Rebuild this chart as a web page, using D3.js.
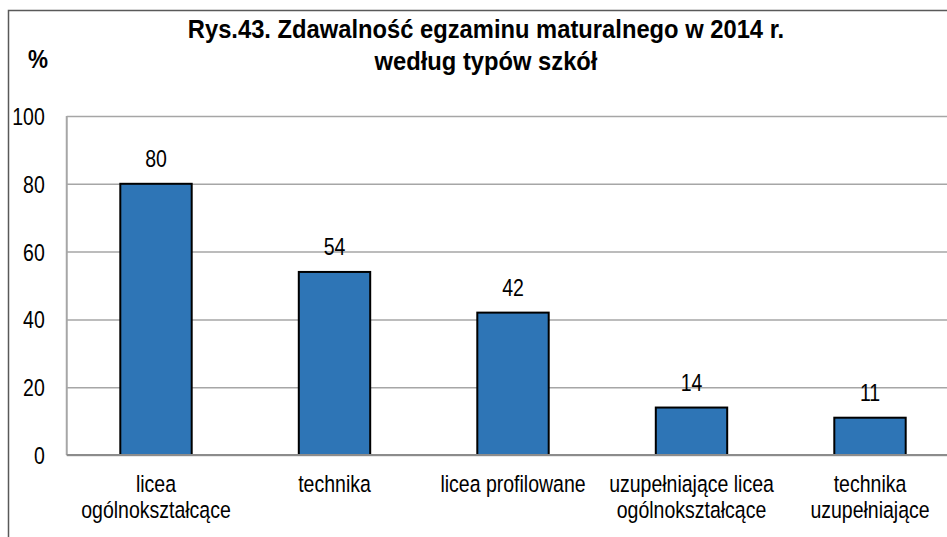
<!DOCTYPE html>
<html>
<head>
<meta charset="utf-8">
<script src="https://cdn.jsdelivr.net/npm/d3@7"></script>
<style>
  html, body { margin: 0; padding: 0; background: #fff; overflow: hidden; }
  svg { display: block; }
  text { font-family: "Liberation Sans", Arial, sans-serif; fill: #000; }
</style>
</head>
<body>
<script>
// Pass rates of the matura exam in 2014, by school type (%)
const categories = [
  ["licea", "ogólnokształcące"],
  ["technika"],
  ["licea profilowane"],
  ["uzupełniające licea", "ogólnokształcące"],
  ["technika", "uzupełniające"]
];
const values = [80, 54, 42, 14, 11];
const yTicks = [0, 20, 40, 60, 80, 100];
const titleLines = ["Rys.43. Zdawalność egzaminu maturalnego w 2014 r.", "według typów szkół"];
const unitLabel = "%";

const W = 947, H = 537;
const NARROW = 0.83;     // horizontal squeeze for the narrow label face
const LABEL_SIZE = 23.5;

const svg = d3.select("body").append("svg").attr("width", W).attr("height", H);

// Outer chart frame (continues past the right and bottom edges)
svg.append("rect")
  .attr("x", 8.5).attr("y", 10.5)
  .attr("width", 1200).attr("height", 1200)
  .attr("fill", "none").attr("stroke", "#595959").attr("stroke-width", 1.5);

const plot = { left: 66.75, right: 959.25, top: 116, bottom: 455 };
const keys = categories.map((c, i) => i);

const x = d3.scaleBand().domain(keys).range([plot.left, plot.right])
  .paddingInner(0.6).paddingOuter(0.3);
const y = d3.scaleLinear().domain([0, 100]).range([plot.bottom, plot.top]);

// Horizontal gridlines and tick labels
const pad = 22;
const yAxis = d3.axisLeft(y).tickValues(yTicks).tickSize(-(plot.right - plot.left)).tickPadding(pad);
const gy = svg.append("g").attr("transform", `translate(${plot.left},0)`).call(yAxis);
gy.attr("font-family", null).attr("font-size", null);
gy.select(".domain").remove();
gy.selectAll(".tick line").attr("stroke", "#A6A6A6").attr("stroke-width", 1.5);
gy.selectAll(".tick text")
  .attr("font-size", LABEL_SIZE).attr("dy", "0.36em").attr("fill", "#000")
  .attr("x", -pad / NARROW)
  .attr("transform", `scale(${NARROW},1)`);

// Left edge of the plot area
svg.append("line")
  .attr("x1", plot.left).attr("x2", plot.left)
  .attr("y1", y(100)).attr("y2", y(0))
  .attr("stroke", "#A6A6A6").attr("stroke-width", 2);

// Bars
svg.append("g").selectAll("rect").data(values).join("rect")
  .attr("x", (d, i) => x(i))
  .attr("y", d => y(d))
  .attr("width", x.bandwidth())
  .attr("height", d => y(0) - y(d))
  .attr("fill", "#2E75B6")
  .attr("stroke", "#000").attr("stroke-width", 2);

// Zero baseline
svg.append("line")
  .attr("x1", plot.left).attr("x2", W)
  .attr("y1", y(0)).attr("y2", y(0))
  .attr("stroke", "#8C8C8C").attr("stroke-width", 2);

// Value labels
svg.append("g").selectAll("text").data(values).join("text")
  .attr("transform", (d, i) => `translate(${x(i) + x.bandwidth() / 2},${y(d) - 17}) scale(${NARROW},1)`)
  .attr("text-anchor", "middle")
  .attr("font-size", LABEL_SIZE)
  .text(d => d);

// Category labels
const cat = svg.append("g").selectAll("text").data(categories).join("text")
  .attr("transform", (d, i) => `translate(${x(i) + x.bandwidth() / 2},492) scale(${NARROW},1)`)
  .attr("text-anchor", "middle")
  .attr("font-size", LABEL_SIZE);
cat.selectAll("tspan").data(d => d).join("tspan")
  .attr("x", 0)
  .attr("dy", (d, i) => i === 0 ? 0 : 26)
  .text(d => d);

// Title
svg.append("g").selectAll("text").data(titleLines).join("text")
  .attr("transform", (d, i) => `translate(486,${38 + i * 32}) scale(0.95,1)`)
  .attr("text-anchor", "middle")
  .attr("font-size", 25)
  .attr("font-weight", "bold")
  .text(d => d);

// Unit label
svg.append("text")
  .attr("transform", `translate(38,68) scale(0.9,1)`)
  .attr("text-anchor", "middle")
  .attr("font-size", 25)
  .attr("font-weight", "bold")
  .text(unitLabel);
</script>
</body>
</html>
